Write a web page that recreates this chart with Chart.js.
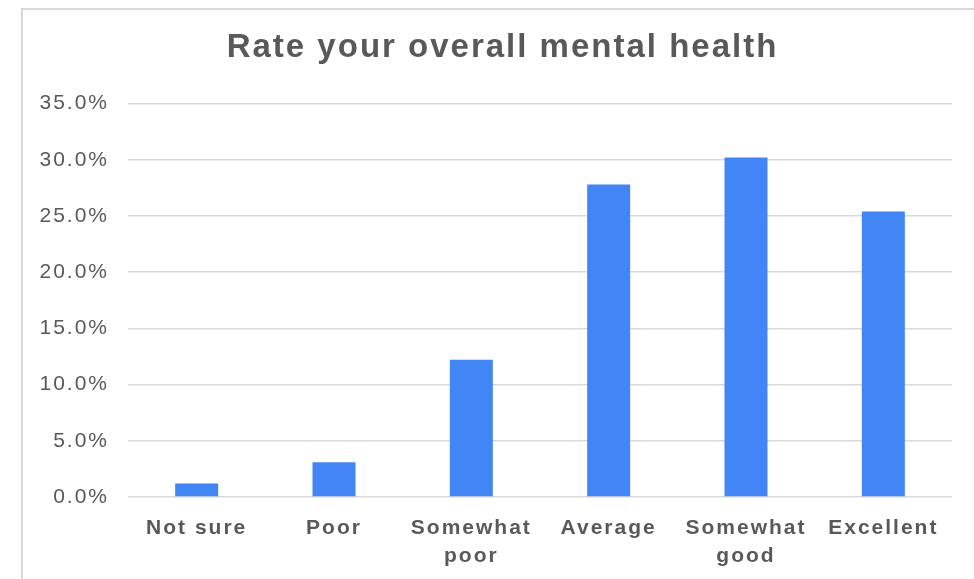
<!DOCTYPE html>
<html>
<head>
<meta charset="utf-8">
<script src="https://cdn.jsdelivr.net/npm/chart.js@4/dist/chart.umd.min.js"></script>
<style>
  html, body { margin: 0; padding: 0; background: #ffffff; overflow: hidden; }
  #frame { position: absolute; left: 21px; top: 8px; width: 1000px; height: 620px; border: 2px solid #d9d9d9; box-sizing: border-box; }
  #wrap { position: absolute; left: 0; top: 0; width: 974px; height: 579px; }
</style>
</head>
<body>
<div id="frame"></div>
<div id="wrap"><canvas id="c" width="974" height="579"></canvas></div>
<script>
const titleText = 'Rate your overall mental health';
const categories = [['Not sure'], ['Poor'], ['Somewhat', 'poor'], ['Average'], ['Somewhat', 'good'], ['Excellent']];
const values = [1.2, 3.1, 12.2, 27.8, 30.2, 25.4];
const yMin = 0, yMax = 35, yStep = 5;

const spacing = {
  id: 'spacing',
  beforeUpdate(chart) { chart.ctx.letterSpacing = '2px'; },
  beforeLayout(chart) { chart.ctx.letterSpacing = '2px'; },
  afterLayout(chart) {
    // centre the title over the same band as the original chart frame
    if (chart.titleBlock) { chart.titleBlock.left = 53; chart.titleBlock.right = 952; }
  },
  beforeDraw(chart) { chart.ctx.letterSpacing = '2px'; }
};

new Chart(document.getElementById('c'), {
  type: 'bar',
  data: {
    labels: categories,
    datasets: [{
      data: values,
      backgroundColor: '#4285F4',
      borderWidth: 0,
      categoryPercentage: 1,
      barPercentage: 0.313
    }]
  },
  plugins: [spacing],
  options: {
    responsive: false,
    animation: false,
    layout: { padding: { left: 0, right: 22, top: 0, bottom: 0 } },
    plugins: {
      legend: { display: false },
      tooltip: { enabled: false },
      title: {
        display: true,
        text: titleText,
        color: '#595959',
        font: { family: 'Liberation Sans, Arial, sans-serif', size: 33, weight: 'bold', lineHeight: 1.2 },
        padding: { top: 28, bottom: 36 }
      }
    },
    scales: {
      x: {
        grid: { display: false, drawTicks: false },
        border: { display: false },
        ticks: {
          color: '#595959',
          padding: 17,
          maxRotation: 0,
          autoSkip: false,
          font: { family: 'Liberation Sans, Arial, sans-serif', size: 21, weight: 'bold', lineHeight: 1.333 }
        },
        afterFit(scale) { scale.height = 82; }
      },
      y: {
        min: yMin,
        max: yMax,
        grid: { color: '#d9d9d9', lineWidth: 1.5, drawTicks: false },
        border: { display: false },
        ticks: {
          stepSize: yStep,
          color: '#595959',
          padding: 19,
          font: { family: 'Liberation Sans, Arial, sans-serif', size: 21 },
          callback: v => v.toFixed(1) + '%'
        },
        afterFit(scale) { scale.width = 128; }
      }
    }
  }
});
</script>
</body>
</html>
